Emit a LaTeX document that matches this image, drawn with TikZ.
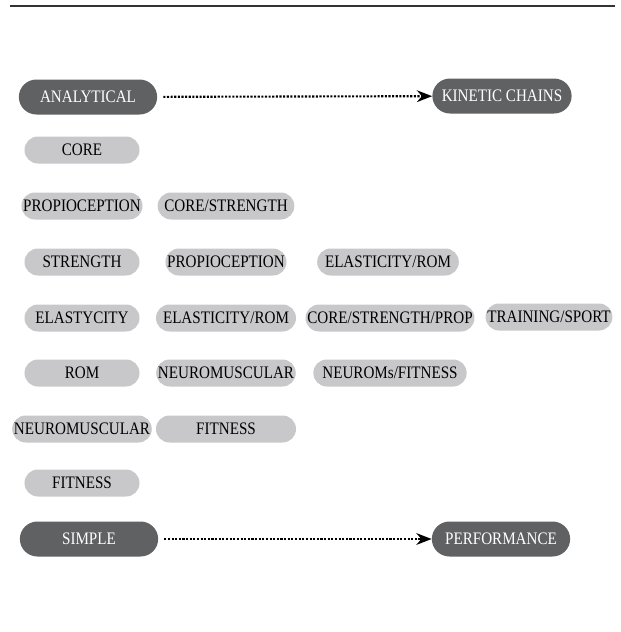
\documentclass[tikz,border=0pt]{standalone}
\usepackage{fontspec}
\setmainfont[FakeStretch=0.86]{Liberation Serif}
\usetikzlibrary{arrows.meta}
\definecolor{pilldark}{RGB}{96,97,99}
\definecolor{pilllight}{RGB}{200,200,202}
\tikzset{
  pillfont/.style={font=\fontsize{15}{17}\selectfont},
  darkpill/.style={pillfont, fill=pilldark, text=white, rounded corners=15pt,
    minimum width=4.15cm, minimum height=1.05cm, inner xsep=8pt},
  lightpill/.style={pillfont, fill=pilllight, text=black, rounded corners=11.5pt,
    minimum width=3.45cm, minimum height=0.81cm, inner xsep=1.5pt},
  flow/.style={black, line width=1.8pt, dash pattern=on 1.8pt off 1.3pt,
    shorten <=5pt, -{Stealth[length=13pt,width=10pt]}}
}

\begin{document}
\begin{tikzpicture}[x=0.03cm, y=-0.03cm]
  \useasboundingbox (0,0) rectangle (621,632);
  % rule on top
  \draw[line width=1pt, black!80] (10,6) -- (615,6);
  % start and goal
  \node[darkpill] (analytical) at (88,97) {ANALYTICAL};
  \node[darkpill] (kinetic) at (502,96) {KINETIC CHAINS};
  \node[darkpill] (simple) at (89,539) {SIMPLE};
  \node[darkpill] (performance) at (501,539) {PERFORMANCE};
  % first column
  \node[lightpill] (core) at (82,150) {CORE};
  \node[lightpill] (propA) at (82,206) {PROPIOCEPTION};
  \node[lightpill] (strength) at (82,262) {STRENGTH};
  \node[lightpill] (elasty) at (82,318) {ELASTYCITY};
  \node[lightpill] (rom) at (82,373) {ROM};
  \node[lightpill] (neuroA) at (82,429) {NEUROMUSCULAR};
  \node[lightpill] (fitnessA) at (82,483) {FITNESS};
  % second column
  \node[lightpill, minimum width=4.1cm] (corestr) at (226,206) {CORE/STRENGTH};
  \node[lightpill] (propB) at (226,262) {PROPIOCEPTION};
  \node[lightpill, minimum width=4.2cm] (elastromA) at (226,318) {ELASTICITY/ROM};
  \node[lightpill] (neuroB) at (226,373) {NEUROMUSCULAR};
  \node[lightpill, minimum width=4.2cm] (fitnessB) at (226,429) {FITNESS};
  % third and fourth column
  \node[lightpill, minimum width=4.25cm] (elastromB) at (388,262) {ELASTICITY/ROM};
  \node[lightpill] (corestrprop) at (390,318) {CORE/STRENGTH/PROP};
  \node[lightpill, minimum width=4.6cm] (neurofit) at (390,373) {NEUROMs/FITNESS};
  \node[lightpill] (training) at (549,317) {TRAINING/SPORT};
  % arrows
  \draw[flow] (analytical) -- (kinetic);
  \draw[flow] (simple) -- (performance);
\end{tikzpicture}
\end{document}
